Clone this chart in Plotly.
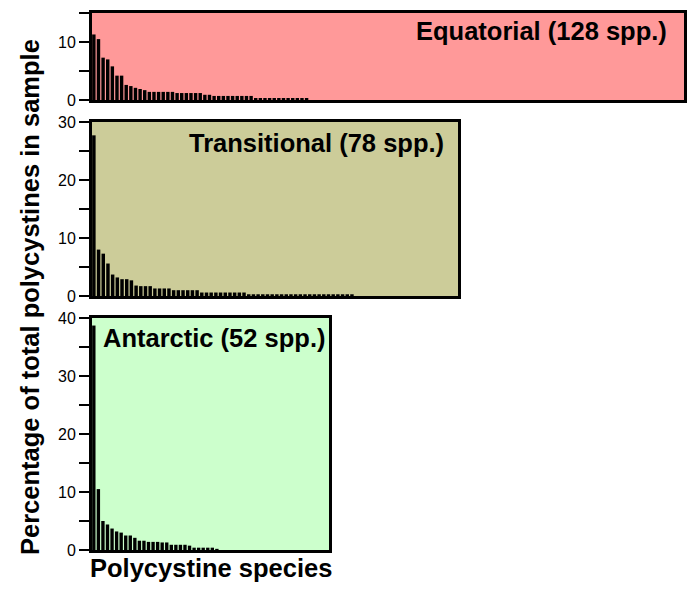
import plotly.graph_objects as go

W, H = 694, 602

# Data (percent of total polycystines, species ranked by abundance)
equatorial = [11.3, 10.5, 7.3, 7.0, 5.8, 4.2, 4.2, 2.6, 2.4, 2.1, 1.9, 1.7,
              1.4, 1.4, 1.4, 1.4, 1.4, 1.4, 1.2, 1.2, 1.2, 1.2, 1.2, 1.2,
              0.9, 0.9, 0.7, 0.7, 0.7, 0.7, 0.7, 0.7, 0.7, 0.7, 0.7,
              0.35, 0.35, 0.35, 0.35, 0.35, 0.35, 0.35, 0.35, 0.35, 0.35, 0.35, 0.35]
transitional = [27.7, 8.0, 7.3, 5.6, 3.7, 3.2, 2.9, 2.9, 2.7, 1.8, 1.7, 1.7, 1.7,
                1.3, 1.3, 1.3, 1.3, 1.0, 1.0, 1.0, 1.0, 1.0, 1.0,
                0.6, 0.6, 0.6, 0.6, 0.6, 0.6, 0.6, 0.6, 0.6, 0.6,
                0.3, 0.3, 0.3, 0.3, 0.3, 0.3, 0.3, 0.3, 0.3, 0.3, 0.3, 0.3,
                0.3, 0.3, 0.3, 0.3, 0.3, 0.3, 0.3, 0.3, 0.3, 0.3, 0.3]
antarctic = [38.7, 10.5, 5.0, 4.4, 3.7, 3.2, 3.0, 2.5, 2.5, 2.1, 1.6, 1.6, 1.4,
             1.4, 1.4, 1.3, 1.3, 0.9, 0.9, 0.9, 0.9, 0.75, 0.4, 0.4, 0.4, 0.4,
             0.4, 0.2]

species_counts = [128, 78, 52]
panel_titles = ["Equatorial (128 spp.)", "Transitional (78 spp.)", "Antarctic (52 spp.)"]
y_max = [15, 30, 40]
series = [equatorial, transitional, antarctic]
bg_colors = ["#FF9999", "#CCCC99", "#CCFFCC"]

# panel pixel boxes: (left, right, top, bottom)
boxes = [(92, 684, 13, 100), (92, 458, 122, 296), (92, 329, 318, 550)]

fig = go.Figure()
layout = dict(width=W, height=H, margin=dict(l=0, r=0, t=0, b=0, autoexpand=False),
              paper_bgcolor="white", plot_bgcolor="white", showlegend=False,
              bargap=0.28)
shapes = []
annotations = []
font_fam = "Liberation Sans, Arial, Helvetica, sans-serif"

for i, (vals, n, ymx, bg, box, title) in enumerate(zip(series, species_counts, y_max, bg_colors, boxes, panel_titles)):
    k = "" if i == 0 else str(i + 1)
    l, r, t, b = box
    xd = [l / W, r / W]
    yd = [1 - b / H, 1 - t / H]
    fig.add_trace(go.Bar(x=list(range(1, len(vals) + 1)), y=vals,
                         marker=dict(color="black", line=dict(width=0)),
                         width=0.74, xaxis="x" + k, yaxis="y" + k))
    tv = list(range(0, ymx + 1, 5))
    tt = [str(v) if v % 10 == 0 else "" for v in tv]
    layout["xaxis" + k] = dict(domain=xd, range=[0.6, n + 0.6], showticklabels=False,
                               ticks="", showgrid=False, zeroline=False, automargin=False,
                               showline=True, mirror=True, linecolor="black", linewidth=3,
                               anchor="y" + k, fixedrange=True)
    layout["yaxis" + k] = dict(domain=yd, range=[0, ymx], tickvals=tv, ticktext=tt,
                               ticks="outside", ticklen=10, tickwidth=1.5, tickcolor="black",
                               showgrid=False, zeroline=False, automargin=False,
                               showline=True, mirror=True, linecolor="black", linewidth=3,
                               tickfont=dict(family=font_fam, size=16, color="black"),
                               anchor="x" + k, fixedrange=True)
    shapes.append(dict(type="rect", xref="paper", yref="paper", x0=xd[0], x1=xd[1],
                       y0=yd[0], y1=yd[1], fillcolor=bg, line=dict(width=0), layer="below"))

tfont = dict(family=font_fam, size=25.5, color="black")
annotations.append(dict(text="<b>Equatorial (128 spp.)</b>", xref="paper", yref="paper",
                        x=669 / W, y=1 - 31.5 / H, xanchor="right", yanchor="middle",
                        showarrow=False, font=tfont))
annotations.append(dict(text="<b>Transitional (78 spp.)</b>", xref="paper", yref="paper",
                        x=446 / W, y=1 - 143 / H, xanchor="right", yanchor="middle",
                        showarrow=False, font=tfont))
annotations.append(dict(text="<b>Antarctic (52 spp.)</b>", xref="paper", yref="paper",
                        x=101 / W, y=1 - 338 / H, xanchor="left", yanchor="middle",
                        showarrow=False, font=tfont))
annotations.append(dict(text="<b>Percentage of total polycystines in sample</b>", xref="paper", yref="paper",
                        x=30 / W, y=1 - 297 / H, xanchor="center", yanchor="middle",
                        textangle=-90, showarrow=False, font=dict(family=font_fam, size=25.5, color="black")))
annotations.append(dict(text="<b>Polycystine species</b>", xref="paper", yref="paper",
                        x=211 / W, y=1 - 567.5 / H, xanchor="center", yanchor="middle",
                        showarrow=False, font=dict(family=font_fam, size=25.5, color="black")))

layout["shapes"] = shapes
layout["annotations"] = annotations
fig.update_layout(**layout)
fig.write_html("out.html", config={"displayModeBar": False, "staticPlot": True},
               post_script="document.body.style.margin='0';document.body.style.padding='0';document.body.style.overflow='hidden';")
